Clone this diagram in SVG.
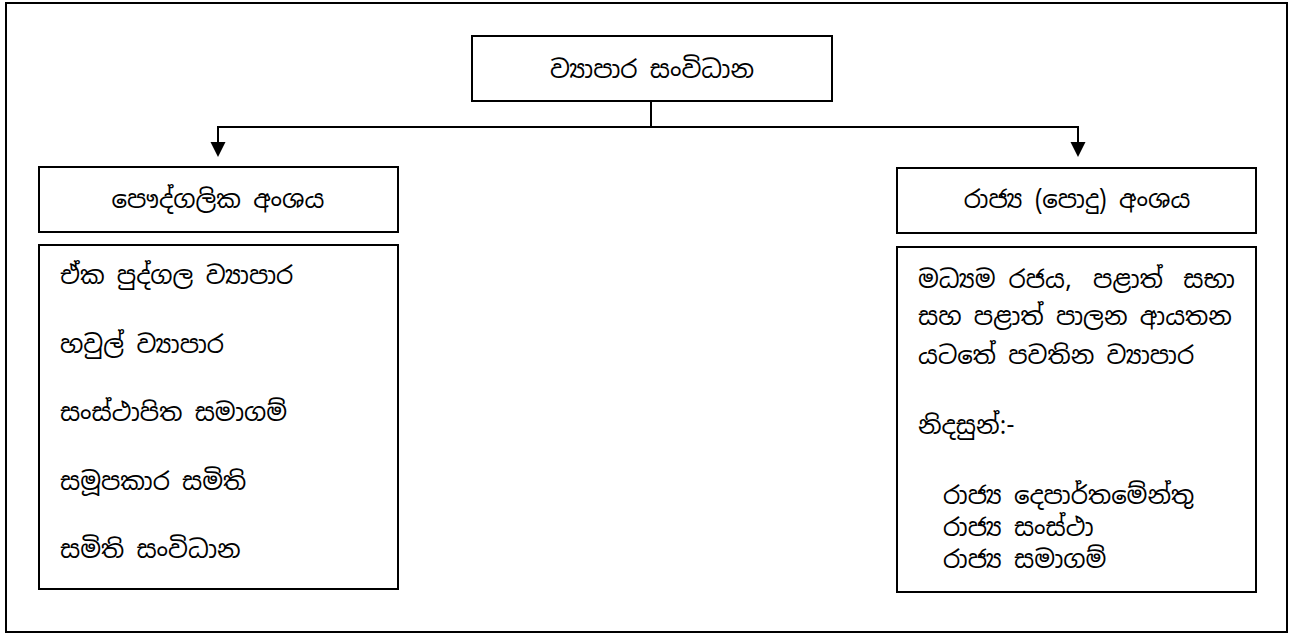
<svg xmlns="http://www.w3.org/2000/svg" width="1293" height="634" viewBox="0 0 1293 634">
<style>
.box{fill:#fff;stroke:#000;stroke-width:2}
.t{font-family:"Noto Sans Sinhala","Iskoola Pota","Noto Serif Sinhala","Noto Sans",sans-serif;font-size:24.5px;fill:#000}
.c{text-anchor:middle}
.e{text-anchor:end}
.ln{stroke:#000;stroke-width:2;fill:none}
</style>
<rect x="6" y="3" width="1281" height="629" fill="#fff" stroke="#000" stroke-width="2"/>
<g id="connectors">
<path class="ln" d="M651,101 V127"/>
<path class="ln" d="M651,127 H218 V142"/>
<path class="ln" d="M651,127 H1078 V142"/>
<path d="M210.5,142 L225.5,142 L218,157 Z" fill="#000"/>
<path d="M1070.5,142 L1085.5,142 L1078,157 Z" fill="#000"/>
</g>
<g id="root">
<rect class="box" x="472" y="36" width="360" height="65"/>
<text class="t c" x="652" y="78">ව්‍යාපාර සංවිධාන</text>
</g>
<g id="private">
<rect class="box" x="39" y="167" width="359" height="65"/>
<text class="t c" x="218" y="208">පෞද්ගලික අංශය</text>
</g>
<g id="private-list">
<rect class="box" x="39" y="245" width="359" height="344"/>
<text class="t" x="60" y="284">ඒක පුද්ගල ව්‍යාපාර</text>
<text class="t" x="60" y="353">හවුල් ව්‍යාපාර</text>
<text class="t" x="60" y="421">සංස්ථාපිත සමාගම්</text>
<text class="t" x="60" y="490">සමූපකාර සමිති</text>
<text class="t" x="60" y="558">සමිති සංවිධාන</text>
</g>
<g id="public">
<rect class="box" x="897" y="168" width="359" height="65"/>
<text class="t c" x="1077" y="208">රාජ්‍ය (පොදු) අංශය</text>
</g>
<g id="public-list">
<rect class="box" x="897" y="247" width="359" height="345"/>
<text class="t" x="918" y="288">මධ්‍යම</text>
<text class="t c" x="1040" y="288">රජය,</text>
<text class="t c" x="1128" y="288">පළාත්</text>
<text class="t e" x="1235" y="288">සභා</text>
<text class="t" x="918" y="325">සහ පළාත් පාලන ආයතන</text>
<text class="t" x="918" y="364">යටතේ පවතින ව්‍යාපාර</text>
<text class="t" x="918" y="434">නිදසුන්:-</text>
<text class="t" x="943" y="504">රාජ්‍ය දෙපාර්තමේන්තු</text>
<text class="t" x="943" y="536">රාජ්‍ය සංස්ථා</text>
<text class="t" x="943" y="568">රාජ්‍ය සමාගම්</text>
</g>
</svg>
